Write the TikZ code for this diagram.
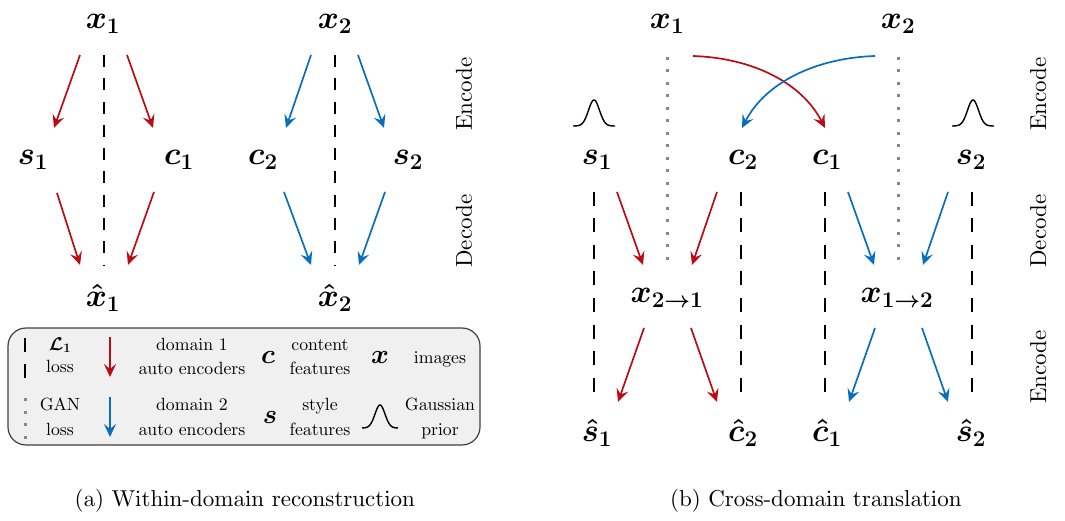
\documentclass[tikz,border=0pt]{standalone}
\usepackage{fix-cm}
\usetikzlibrary{calc,arrows.meta}
\DeclareFontFamily{OT1}{cmten}{}
\DeclareFontShape{OT1}{cmten}{m}{n}{<->cmr10}{}
\newcommand\tenrm[1]{\fontencoding{OT1}\fontfamily{cmten}\fontseries{m}\fontshape{n}\fontsize{#1}{#1}\selectfont}
\definecolor{myred}{RGB}{185,12,20}
\definecolor{myblue}{RGB}{10,110,190}
\definecolor{mygray}{RGB}{135,135,135}
\tikzset{
  mth/.style={font=\fontsize{32}{38}\selectfont\boldmath, inner sep=0pt},
  lmth/.style={font=\fontsize{27}{30}\selectfont\boldmath, inner sep=0pt, anchor=base},
  ra/.style={draw=myred, line width=1.7pt, -{Stealth[length=13pt,width=12pt,inset=5pt]}},
  ba/.style={ra, draw=myblue},
  ldash/.style={line width=2.2pt, dash pattern=on 12pt off 11.3pt},
  rdash/.style={line width=2.2pt, dash pattern=on 14pt off 12.5pt},
  gdot/.style={draw=mygray, line width=3pt, dash pattern=on 3pt off 9.5pt},
  lbl/.style={font=\tenrm{23}, rotate=90, inner sep=0pt},
  lt/.style={font=\tenrm{17.7}, inner sep=0pt, anchor=base},
  captxt/.style={font=\tenrm{23}, inner sep=0pt, anchor=base},
  gauss/.style={line width=1.4pt},
}
\begin{document}
\begin{tikzpicture}[x=1pt,y=-1pt]
\useasboundingbox (0,0) rectangle (1065,521);
% ---------------- (a) within-domain ----------------
\node[mth] (x1) at (103,24) {$x_1$};
\node[mth] (s1) at (33,160) {$s_1$};
\node[mth] (c1) at (179,160) {$c_1$};
\node[mth] (xh1) at (103,298) {$\hat{x}_1$};
\node[mth] (x2) at (335,24) {$x_2$};
\node[mth] (c2) at (263,160) {$c_2$};
\node[mth] (s2) at (408,160) {$s_2$};
\node[mth] (xh2) at (335,298) {$\hat{x}_2$};

\draw[ldash] ($(x1)+(1,31)$) -- ($(xh1)+(1,-33)$);
\draw[ldash] ($(x2)+(0,31)$) -- ($(xh2)+(0,-33)$);

\draw[ra] ($(x1)+(-23,31)$) -- ($(s1)+(21,-32)$);
\draw[ra] ($(x1)+(24,31)$) -- ($(c1)+(-26,-32)$);
\draw[ra] ($(s1)+(24,33)$) -- ($(xh1)+(-23,-33)$);
\draw[ra] ($(c1)+(-25,32)$) -- ($(xh1)+(25,-33)$);
\draw[ba] ($(x2)+(-24,31)$) -- ($(c2)+(23,-32)$);
\draw[ba] ($(x2)+(23,31)$) -- ($(s2)+(-24,-32)$);
\draw[ba] ($(c2)+(21,32)$) -- ($(xh2)+(-24,-33)$);
\draw[ba] ($(s2)+(-23,32)$) -- ($(xh2)+(24,-33)$);

\node[lbl] (encA) at (464,94) {Encode};
\node[lbl] (decA) at (464,231) {Decode};

% legend
\draw[draw=black!75, fill=black!6, line width=1.2pt, rounded corners=18pt] (8,328) rectangle (480,445);
\draw[line width=2.2pt, dash pattern=on 14pt off 12pt] (25,338) -- (25,378);
\draw[gdot] (25,398) -- (25,440);
\node[lt, font=\fontsize{18.5}{24}\selectfont\boldmath] (lL) at (60,350) {$\mathcal{L}_1$};
\node[lt] (lloss1) at (60,372) {loss};
\node[lt] (lgan) at (60,410) {GAN};
\node[lt] (lloss2) at (60,435) {loss};
\draw[ra] (110,337) -- (110,377);
\draw[ba] (110,397) -- (110,437);
\node[lt] (ld1) at (192,350) {domain 1};
\node[lt] (lae1) at (192,374) {auto encoders};
\node[lt] (ld2) at (192,410) {domain 2};
\node[lt] (lae2) at (192,435) {auto encoders};
\node[lmth] (lc) at (268,363) {$c$};
\node[lmth] (ls) at (270,423) {$s$};
\node[lt] (lcont) at (320,350) {content};
\node[lt] (lfeat1) at (320,374) {features};
\node[lt] (lstyle) at (320,410) {style};
\node[lt] (lfeat2) at (320,435) {features};
\node[lmth] (lx) at (380,363) {$x$};
\node[lt] (limg) at (440,363) {images};
\draw[gauss] plot[domain=-18:18, samples=60, smooth] ({380+\x},{428-23*exp(-((\x)^2)/50)});
\node[lt] (lgau) at (440,410) {Gaussian};
\node[lt] (lprior) at (440,435) {prior};

\node[captxt] (capA) at (245,506) {(a) Within-domain reconstruction};

% ---------------- (b) cross-domain ----------------
\node[mth] (rx1) at (667,24) {$x_1$};
\node[mth] (rx2) at (898,24) {$x_2$};
\node[mth] (rs1) at (597,160) {$s_1$};
\node[mth] (rc2) at (743,160) {$c_2$};
\node[mth] (rc1) at (827,160) {$c_1$};
\node[mth] (rs2) at (971,160) {$s_2$};
\node[mth] (x21) at (667,298) {$x_{2\rightarrow1}$};
\node[mth] (x12) at (897,298) {$x_{1\rightarrow2}$};
\node[mth] (sh1) at (597,433) {$\hat{s}_1$};
\node[mth] (ch2) at (743,433) {$\hat{c}_2$};
\node[mth] (ch1) at (827,433) {$\hat{c}_1$};
\node[mth] (sh2) at (971,433) {$\hat{s}_2$};

\draw[gdot] ($(rx1)+(0,33)$) -- ($(x21)+(0,-38)$);
\draw[gdot] ($(rx2)+(0,33)$) -- ($(x12)+(1,-38)$);

\draw[ra] ($(rx1)+(26,32)$) .. controls +(60,2) and +(-23,-45) .. ($(rc1)+(-2,-32)$);
\draw[ba] ($(rx2)+(-23,32)$) .. controls +(-60,2) and +(23,-45) .. ($(rc2)+(-1,-32)$);

\draw[gauss] plot[domain=-21:21, samples=60, smooth] ({594+\x},{126-26*exp(-((\x)^2)/60)});
\draw[gauss] plot[domain=-21:21, samples=60, smooth] ({973+\x},{126-26*exp(-((\x)^2)/60)});

\draw[rdash] ($(rs1)+(-3,32)$) -- ($(sh1)+(-3,-33)$);
\draw[rdash] ($(rc2)+(-2,32)$) -- ($(ch2)+(-2,-33)$);
\draw[rdash] ($(rc1)+(-2,32)$) -- ($(ch1)+(-2,-33)$);
\draw[rdash] ($(rs2)+(1,32)$) -- ($(sh2)+(1,-33)$);

\draw[ra] ($(rs1)+(20,32)$) -- ($(x21)+(-24,-33)$);
\draw[ra] ($(rc2)+(-26,32)$) -- ($(x21)+(25,-33)$);
\draw[ba] ($(rc1)+(21,32)$) -- ($(x12)+(-23,-33)$);
\draw[ba] ($(rs2)+(-23,32)$) -- ($(x12)+(26,-33)$);
\draw[ra] ($(x21)+(-23,30)$) -- ($(sh1)+(21,-31)$);
\draw[ra] ($(x21)+(24,30)$) -- ($(ch2)+(-26,-31)$);
\draw[ba] ($(x12)+(-22,30)$) -- ($(ch1)+(22,-31)$);
\draw[ba] ($(x12)+(25,30)$) -- ($(sh2)+(-23,-31)$);

\node[lbl] (encB) at (1038,94) {Encode};
\node[lbl] (decB) at (1038,231) {Decode};
\node[lbl] (encC) at (1038,367) {Encode};

\node[captxt] (capB) at (816,506) {(b) Cross-domain translation};
\end{tikzpicture}
\end{document}
